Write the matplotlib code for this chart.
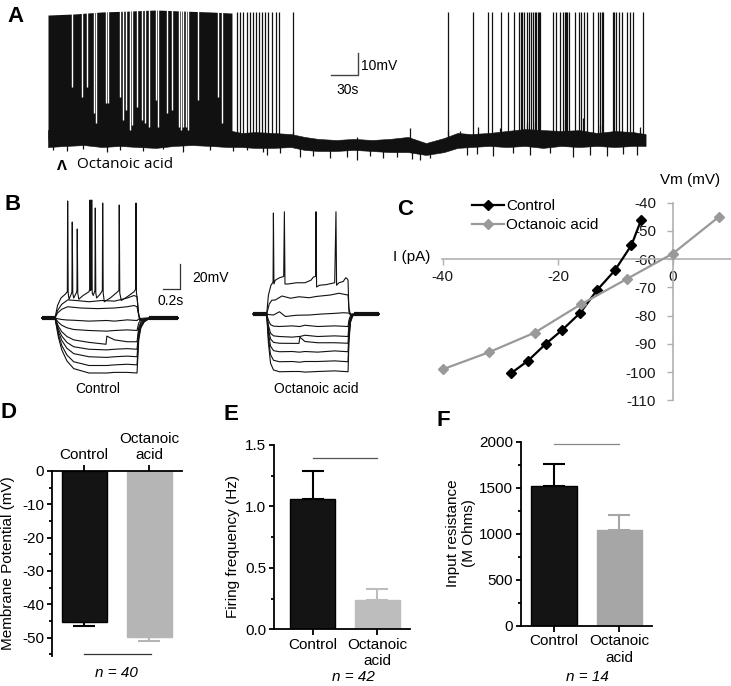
import numpy as np
import matplotlib.pyplot as plt
from matplotlib.ticker import MultipleLocator

plt.rcParams['font.family'] = ['Liberation Sans', 'DejaVu Sans']
plt.rcParams['axes.unicode_minus'] = False

W, H = 731, 686
trace_col = '#111111'

# ---------------- A: spontaneous firing (time in s, Vm in mV) ----------------
# near-continuous firing before the drug takes effect
a_dense_t = [0, 30, 60, 90, 120, 150, 180, 204.4]
a_dense_top = [-3.2, -2.7, -1.8, -1.4, -0.9, -1.4, -1.8, -2.3]
# short pauses (white gaps) inside the dense firing
a_gap_t = [26.3, 38.1, 43.7, 51.1, 53.0, 64.4, 66.3, 80.0, 83.0, 86.3, 91.1, 93.0, 98.6, 104.1,
           107.8, 112.6, 119.7, 121.9, 131.9, 137.4, 145.6, 147.8, 149.7, 153.3, 155.9, 167.0,
           189.2, 193.0]
a_gap_low = [-35.9, -40.5, -35.9, -47.7, -52.3, -43.2, -43.2, -40.5, -50.9, -46.4, -55.5, -53.2,
             -45.0, -50.9, -52.3, -54.1, -41.8, -54.1, -47.7, -46.4, -54.1, -55.5, -54.1, -54.1,
             -55.5, -41.8, -40.5, -52.3]
# single spikes
a_spike_t = [210.0, 213.3, 216.7, 221.1, 224.4, 227.8, 231.1, 234.4, 237.8, 241.1, 244.4, 248.9,
             253.3, 256.7, 272.2,
             444.1, 471.9, 488.6, 493.7, 503.3, 510.8, 517.8, 523.3, 525.0, 526.7, 528.9, 531.9,
             534.4, 536.7, 538.9, 540.6, 542.2, 543.9, 545.6, 546.7, 560.8, 564.4, 568.9, 572.2,
             573.9, 575.6, 577.2, 578.9, 585.6, 590.0, 591.9, 595.6, 598.6, 605.6, 610.8, 613.3,
             615.2, 616.7, 627.4, 628.9, 630.8, 634.4, 637.4, 643.0, 646.7, 649.7, 661.1]
a_spike_peak = -2.0
# noisy baseline envelope
a_band_t = [0, 20, 40, 60, 80, 100, 120, 140, 160, 180, 200, 215, 230, 250, 270, 285, 300, 320,
            340, 360, 380, 400, 420, 440, 455, 470, 490, 510, 530, 550, 570, 590, 610, 630, 650, 664]
a_band_lo = [-63.2, -62.7, -62.3, -63.2, -62.7, -63.2, -63.6, -62.7, -62.3, -62.7, -63.2,
             -63.2, -63.6, -63.6, -63.2,
             -64.5, -65.0, -65.0, -64.5, -65.0, -65.5, -65.5, -66.8, -65.5,
             -63.6, -63.2,
             -62.7, -63.2, -62.7, -63.6, -62.7, -63.2, -62.7, -63.2, -62.7, -62.7]
a_band_hi = [-55.5, -55.5, -55.5, -55.5, -55.5, -55.5, -55.5, -55.5, -55.5, -55.5, -55.5,
             -56.8, -56.4, -56.8, -57.3,
             -58.6, -59.5, -60.0, -59.5, -60.0, -59.5, -58.6, -61.4, -59.1,
             -56.8, -57.3,
             -56.8, -55.9, -55.0, -55.5, -55.9, -55.5, -56.8, -55.9, -56.4, -57.3]
# larger noise excursions below / above the baseline
a_dip_t = [5.6, 21.1, 38.9, 65.6, 80.0, 105.6, 127.8, 150.0, 180.0, 205.6, 221.1, 238.9, 243.3,
           257.8, 280.0, 294.4, 313.3, 332.2, 343.3, 357.8, 372.2, 387.8, 404.4, 413.3, 424.4,
           465.6, 476.7, 494.4, 516.7, 535.6, 557.8, 583.3, 602.2, 621.1, 638.9, 654.4]
a_dip_v = [-64.5, -65.0, -64.1, -65.5, -64.5, -65.0, -64.1, -65.5, -64.5, -65.0, -64.5, -65.5,
           -66.8, -65.9, -67.7, -67.3, -68.2, -67.7, -69.1, -67.3, -68.2, -67.7, -68.6, -69.1,
           -68.2, -66.8, -66.4, -67.3, -65.9, -66.8, -65.9, -67.7, -66.8, -67.3, -66.4, -66.8]
a_bump_t = [272.2, 343.3, 402.2, 444.4, 457.8, 477.8, 502.2, 532.2, 541.1, 574.4, 594.4, 613.3, 657.8]
a_bump_v = [-56.4, -58.6, -54.5, -55.5, -55.9, -54.1, -54.5, -52.3, -51.8, -50.9, -50.0, -53.2, -54.1]

# ---------------- B: current-step sweeps (time in s from step onset, mV) ----------------
ctrl_spiking = [(-0.153, -60), (0, -60), (0.03, -50), (0.07, -44), (0.12, -41), (0.145, -39),
                (0.149, 33.6), (0.155, -40), (0.165, -45), (0.19, -41), (0.199, -39),
                (0.203, 16.8), (0.209, -40), (0.22, -44), (0.25, -40), (0.258, -38),
                (0.262, 11.2), (0.268, -40), (0.28, -45), (0.33, -42), (0.4, -39), (0.408, -37),
                (0.412, 34.4), (0.418, -38), (0.428, -37), (0.432, 34.4), (0.438, -40),
                (0.45, -42), (0.47, -38), (0.474, 28), (0.48, -40), (0.49, -44), (0.53, -41),
                (0.557, -38), (0.561, 32), (0.567, -40), (0.58, -47), (0.65, -44), (0.72, -40),
                (0.752, -38), (0.756, 30.4), (0.762, -40), (0.78, -46), (0.85, -43), (0.93, -39),
                (0.949, -37), (0.953, 32), (0.958, -40), (0.965, -43), (0.985, -58), (1.0, -62),
                (1.05, -61), (1.1, -60), (1.447, -60)]
ctrl_depol = [
    [(-0.153, -60), (0, -60), (0.03, -54), (0.08, -49), (0.15, -45.5), (0.25, -46), (0.4, -47),
     (0.55, -46), (0.7, -46.5), (0.85, -44), (0.93, -42), (0.965, -43), (0.98, -55), (1.0, -62),
     (1.04, -61.5), (1.1, -60.3), (1.447, -60)],
    [(-0.153, -60), (0, -60), (0.03, -56), (0.08, -53), (0.15, -51), (0.3, -52), (0.5, -52.5),
     (0.7, -52), (0.85, -51), (0.93, -50), (0.965, -51), (0.985, -58), (1.01, -61.5),
     (1.05, -61), (1.1, -60.2), (1.447, -60)],
]
ctrl_hyp_t = [-0.153, 0, 0.04, 0.08, 0.14, 0.22, 0.4, 0.6, 0.61, 0.7, 0.85, 0.965, 0.985, 1.01,
              1.05, 1.1, 1.447]
ctrl_hyp_v = [
    [-60, -60, -60.7, -61.2, -61.6, -61.8, -62.5, -62, -62, -62.5, -61.5, -62, -60.8, -60.4, -60.1, -60, -60],
    [-60, -60, -63.5, -65.8, -67.8, -69.2, -70, -70.5, -70.5, -70, -69.5, -70, -64, -61.8, -60.7, -60.2, -60],
    [-60, -60, -66.7, -71, -74.8, -77.5, -79.5, -81, -74.5, -77.5, -79, -79, -67.6, -63.4, -61.3, -60.4, -60],
    [-60, -60, -68.8, -74.5, -79.5, -83, -85, -85.5, -85.5, -85, -84.5, -85, -70, -64.5, -61.8, -60.5, -60],
    [-60, -60, -70.9, -78, -84.2, -88.5, -91, -91.5, -91.5, -91, -90.5, -91, -72.4, -65.6, -62.2, -60.6, -60],
    [-60, -60, -73.3, -82, -89.6, -95, -98, -98, -98, -97.5, -97, -97.5, -75.2, -66.8, -62.7, -60.8, -60],
    [-60, -60, -75.4, -85.5, -94.3, -100.5, -104, -104, -104, -103.5, -103.5, -104, -77.6, -67.9, -63.1, -60.9, -60],
]
ctrl_base_pre = [-0.153, 0.0]
ctrl_base_post = [1.1, 1.447]

oct_spiking = [(-0.158, -60), (0, -60), (0.02, -45), (0.05, -37), (0.07, -35), (0.075, -34),
               (0.079, 20.8), (0.085, -36), (0.1, -33), (0.15, -31), (0.2, -30), (0.208, 21.8),
               (0.215, -36), (0.25, -36), (0.35, -35), (0.45, -35), (0.52, -33), (0.55, -30.4),
               (0.575, -30), (0.58, 21.8), (0.587, -38.4), (0.62, -37), (0.7, -36.5), (0.8, -35),
               (0.815, 21.8), (0.822, -37), (0.85, -35), (0.9, -34), (0.93, -31), (0.95, -32),
               (0.957, -33), (0.967, -58), (0.985, -61), (1.01, -60.3), (1.32, -60)]
oct_depol = [
    [(-0.158, -60), (0, -60), (0.03, -52), (0.06, -49), (0.1, -48.8), (0.18, -45.6), (0.28, -47.4),
     (0.38, -46.2), (0.5, -47), (0.58, -46), (0.65, -45.5), (0.75, -44.8), (0.85, -43.4),
     (0.93, -44.5), (0.957, -44.8), (0.967, -55), (0.985, -60.5), (1.01, -60.3), (1.32, -60)],
    [(-0.158, -60), (0, -60), (0.03, -60.5), (0.08, -60.8), (0.15, -58.2), (0.22, -62), (0.35, -61),
     (0.5, -60.8), (0.65, -60), (0.8, -59.5), (0.9, -59), (0.957, -59.2), (0.985, -60), (1.32, -60)],
]
oct_hyp_t = [-0.158, 0, 0.02, 0.045, 0.08, 0.15, 0.3, 0.38, 0.39, 0.45, 0.6, 0.8, 0.957, 0.967,
             0.985, 1.01, 1.05, 1.32]
oct_hyp_v = [
    [-60, -60, -65, -68.5, -69.7, -70, -69.5, -70, -70, -69, -70, -69.5, -70, -65, -61.5, -60.4, -60, -60],
    [-60, -60, -69, -75.3, -77.5, -78, -78.5, -78, -78, -77, -78, -77.5, -78, -69, -62.7, -60.7, -60, -60],
    [-60, -60, -71.7, -79.9, -82.7, -83.4, -83.5, -83.5, -78.5, -82, -83, -83, -83.4, -71.7, -63.5, -60.9, -60, -60],
    [-60, -60, -75, -85.7, -89.3, -90.2, -90, -90.5, -90.5, -90, -90.5, -89.5, -90.2, -75, -64.5, -61.2, -60, -60],
    [-60, -60, -79, -92.5, -97, -98.2, -98, -98.5, -98.5, -98, -98, -97.5, -98.2, -79, -65.7, -61.5, -60, -60],
    [-60, -60, -83, -99.3, -104.8, -106.2, -106, -106, -106, -106.5, -106, -105.5, -106.2, -83, -67, -61.8, -60, -60],
]
oct_base_pre = [-0.158, 0.0]
oct_base_post = [1.03, 1.32]

# ---------------- C: I-V relation ----------------
ctrl_iv_i = [-5.5, -7.2, -10.1, -13.2, -16.1, -19.2, -22.1, -25.2, -28.2]
ctrl_iv_v = [-46, -55, -64, -71, -79, -85, -90, -96, -100.5]
oct_iv_i = [8, 0, -8, -16, -24, -32, -40]
oct_iv_v = [-45, -58, -67, -76, -86, -93, -99]

# ---------------- D-F: group means ----------------
groups = ['Control', 'Octanoic\nacid']
d_mean = [-45.2, -49.9]
d_sem = [1.3, 1.0]
e_mean = [1.06, 0.24]
e_sem = [0.225, 0.092]
f_mean = [1522, 1040]
f_sem = [232, 163]


def px_axes(left, top, right, bottom):
    return fig.add_axes([left / W, 1 - bottom / H, (right - left) / W, (bottom - top) / H])


def px_text(x, y, s, **kw):
    kw.setdefault('ha', 'center')
    kw.setdefault('va', 'center')
    fig.text(x / W, 1 - y / H, s, **kw)


fig = plt.figure(figsize=(W / 100, H / 100), dpi=100)

# ---------- A ----------
axA = px_axes(48, 0, 646, 170)
axA.set_xlim(0, (646 - 48) / 0.9)
axA.set_ylim(-60 - 30 / 2.2, -60 + 140 / 2.2)
axA.axis('off')
axA.fill_between(a_band_t, a_band_lo, a_band_hi, color=trace_col, lw=0.4)
axA.vlines(a_dip_t, -61, a_dip_v, color=trace_col, lw=0.9)
axA.vlines(a_bump_t, -60, a_bump_v, color=trace_col, lw=0.9)
axA.fill_between(a_dense_t, -60, a_dense_top, color=trace_col, lw=0)
axA.vlines(a_gap_t, a_gap_low, 2, color='white', lw=1.0)
axA.vlines(a_spike_t, -58, a_spike_peak, color=trace_col, lw=0.9)
axA.plot([314, 344, 344], [-30.5, -30.5, -20.5], color='#444444', lw=1)
px_text(361, 66, '10mV', ha='left', fontsize=10)
px_text(348, 90, '30s', fontsize=10)
px_text(62, 166, 'Λ', fontsize=11, fontweight='bold', family='Open Sans')
px_text(77, 165, 'Octanoic acid', ha='left', fontsize=11, family='Open Sans')

# ---------- B ----------
axBc = px_axes(30, 190, 250, 385)
axBc.set_xlim((30 - 55) / 85, (250 - 55) / 85)
axBc.set_ylim(-60 - (385 - 318) / 1.25, -60 + (318 - 190) / 1.25)
axBo = px_axes(250, 190, 390, 385)
axBo.set_xlim((250 - 266.7) / 85, (390 - 266.7) / 85)
axBo.set_ylim(-60 - (385 - 314) / 1.25, -60 + (314 - 190) / 1.25)
for ax, spk, dep, ht, hv, pre, post in [
        (axBc, ctrl_spiking, ctrl_depol, ctrl_hyp_t, ctrl_hyp_v, ctrl_base_pre, ctrl_base_post),
        (axBo, oct_spiking, oct_depol, oct_hyp_t, oct_hyp_v, oct_base_pre, oct_base_post)]:
    ax.axis('off')
    for sweep in [spk] + dep:
        t, v = zip(*sweep)
        ax.plot(t, v, color=trace_col, lw=0.8)
    for v in hv:
        ax.plot(ht, v, color=trace_col, lw=0.8)
    ax.plot(pre, [-60, -60], color=trace_col, lw=3, solid_capstyle='butt')
    ax.plot(post, [-60, -60], color=trace_col, lw=3, solid_capstyle='butt')
axBc.plot([1.2706, 1.4706, 1.4706], [-36.8, -36.8, -16.8], color='#333333', lw=0.9)
px_text(192, 278, '20mV', ha='left', fontsize=10)
px_text(171, 301, '0.2s', fontsize=10)
px_text(98, 389, 'Control', fontsize=10)
px_text(316, 389, 'Octanoic acid', fontsize=10)

# ---------- C ----------
axC = px_axes(441.7, 202.7, 731, 400.3)
axC.set_xlim(-40.2, 10.1)
axC.set_ylim(-110, -40)
axC.spines['left'].set_position(('data', 0))
axC.spines['bottom'].set_position(('data', -60))
for s in ['top', 'right']:
    axC.spines[s].set_visible(False)
for s in ['left', 'bottom']:
    axC.spines[s].set_color('#b0b0b0')
    axC.spines[s].set_linewidth(1.2)
axC.set_xticks([-40, -20, 0])
axC.set_yticks(np.arange(-40, -111, -10))
axC.tick_params(color='#b0b0b0', labelcolor='#1a1a1a', length=4, width=1, labelsize=11)
axC.tick_params(axis='y', pad=8)
axC.tick_params(axis='x', pad=4)
axC.patch.set_alpha(0)
axC.plot(ctrl_iv_i, ctrl_iv_v, color='black', lw=1.6, marker='D', ms=5.5, label='Control',
         clip_on=False, zorder=3)
axC.plot(oct_iv_i, oct_iv_v, color='#999999', lw=1.6, marker='D', ms=5.5, label='Octanoic acid',
         clip_on=False, zorder=3)
axC.legend(loc='upper left', bbox_to_anchor=(472 / W, 1 - 199 / H), bbox_transform=fig.transFigure,
           frameon=False, fontsize=11, handlelength=2.1, handletextpad=0.15, labelspacing=0.35,
           borderpad=0, borderaxespad=0)
px_text(430, 257, 'I (pA)', ha='right', fontsize=11)
px_text(690, 180, 'Vm (mV)', fontsize=11)


# ---------- D-F ----------
def bar_panel(ax, means, sems, colors, up=True):
    x = np.arange(len(means))
    edges = ['black'] + colors[1:]
    ax.bar(x, means, width=0.69, color=colors, edgecolor=edges, linewidth=1, zorder=2)
    for xi, m, e, c in zip(x, means, sems, edges):
        yerr = [[0], [e]] if up else [[e], [0]]
        ax.errorbar(xi, m, yerr=yerr, fmt='none', ecolor=c, elinewidth=1.5, capsize=8,
                    capthick=1.5, zorder=1)
    ax.set_xticks(x)
    ax.set_xticklabels(groups)
    for s in ax.spines.values():
        s.set_linewidth(1.3)
    ax.spines['right'].set_visible(False)
    ax.tick_params(axis='y', which='major', length=3.6, width=1.3, labelsize=11, pad=2)
    ax.tick_params(axis='y', which='minor', length=2.2, width=1.3)
    ax.tick_params(axis='x', length=4.3, width=1.3, labelsize=11, pad=2)


axD = px_axes(51.7, 471, 181.7, 656)
bar_panel(axD, d_mean, d_sem, ['#141414', '#b5b5b5'], up=False)
axD.set_xlim(-0.5, 1.5)
axD.set_ylim(-55.5, 0)
axD.spines['bottom'].set_visible(False)
axD.xaxis.tick_top()
axD.yaxis.set_major_locator(MultipleLocator(10))
axD.yaxis.set_minor_locator(MultipleLocator(5))
axD.plot([0, 1.02], [-54.9, -54.9], color='#333333', lw=0.9, clip_on=False)
px_text(8.3, 563, 'Membrane Potential (mV)', rotation=90, fontsize=11)
px_text(116.7, 673, 'n = 40', fontsize=11, style='italic')

axE = px_axes(274, 445, 410, 629.3)
bar_panel(axE, e_mean, e_sem, ['#141414', '#bdbdbd'])
axE.set_xlim(-0.6, 1.506)
axE.set_ylim(0, 1.5)
axE.spines['top'].set_visible(False)
axE.yaxis.set_major_locator(MultipleLocator(0.5))
axE.yaxis.set_minor_locator(MultipleLocator(0.25))
axE.yaxis.set_major_formatter('{x:.1f}')
axE.plot([0, 1], [1.397, 1.397], color='#555555', lw=0.9)
px_text(233, 547, 'Firing frequency (Hz)', rotation=90, fontsize=11)
px_text(353, 677, 'n = 42', fontsize=11, style='italic')

axF = px_axes(521, 441.7, 651.7, 625.7)
bar_panel(axF, f_mean, f_sem, ['#141414', '#a6a6a6'])
axF.set_xlim(-0.505, 1.496)
axF.set_ylim(0, 2000)
axF.spines['top'].set_visible(False)
axF.yaxis.set_major_locator(MultipleLocator(500))
axF.yaxis.set_minor_locator(MultipleLocator(250))
axF.plot([0, 0.99], [1972, 1972], color='#888888', lw=0.9, clip_on=False)
px_text(461, 533, 'Input resistance\n(M Ohms)', rotation=90, fontsize=11, linespacing=1.1)
px_text(587, 677, 'n = 14', fontsize=11, style='italic')

# panel letters
for letter, x, y in [('A', 15, 16), ('B', 13, 205), ('C', 405, 209), ('D', 8, 413),
                     ('E', 231, 415), ('F', 443, 421)]:
    px_text(x, y, letter, fontsize=16, fontweight='bold')

fig.savefig('out.png', dpi=100)
